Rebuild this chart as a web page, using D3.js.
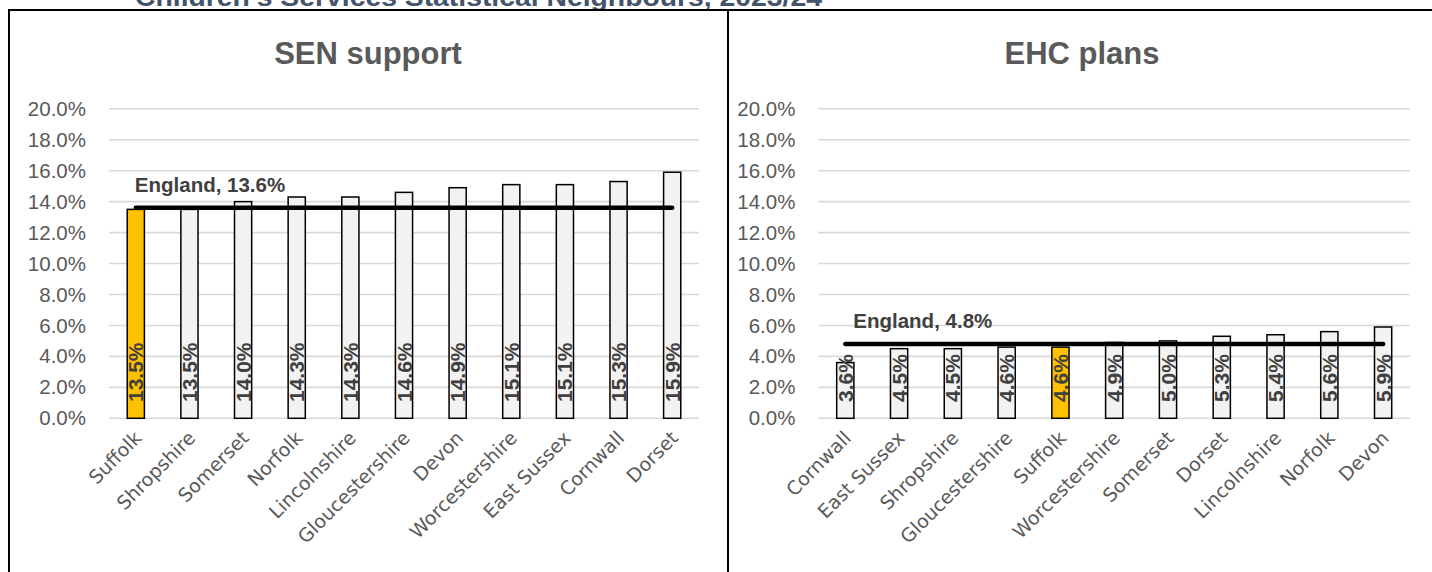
<!DOCTYPE html>
<html>
<head>
<meta charset="utf-8">
<script src="https://cdn.jsdelivr.net/npm/d3@7"></script>
<style>
  html, body { margin: 0; padding: 0; background: #ffffff; }
  svg { display: block; }
</style>
</head>
<body>
<svg id="chart" width="1432" height="572"></svg>
<script>
// SEN support (% of pupils), ordered low to high
const senCategories = ["Suffolk", "Shropshire", "Somerset", "Norfolk", "Lincolnshire",
  "Gloucestershire", "Devon", "Worcestershire", "East Sussex", "Cornwall", "Dorset"];
const senValues = [13.5, 13.5, 14.0, 14.3, 14.3, 14.6, 14.9, 15.1, 15.1, 15.3, 15.9];
const senEngland = 13.6;

// EHC plans (% of pupils), ordered low to high
const ehcCategories = ["Cornwall", "East Sussex", "Shropshire", "Gloucestershire", "Suffolk",
  "Worcestershire", "Somerset", "Dorset", "Lincolnshire", "Norfolk", "Devon"];
const ehcValues = [3.6, 4.5, 4.5, 4.6, 4.6, 4.9, 5.0, 5.3, 5.4, 5.6, 5.9];
const ehcEngland = 4.8;

const yTicks = [0, 2, 4, 6, 8, 10, 12, 14, 16, 18, 20];
const highlightArea = "Suffolk";
const pageTitle = "Children\u2019s Services Statistical Neighbours, 2023/24";

const svg = d3.select("#chart");

// Report heading, mostly above the visible area
svg.append("text")
  .attr("x", 135).attr("y", 6)
  .attr("font-family", "Liberation Sans, Arial, sans-serif")
  .attr("font-weight", "bold")
  .attr("font-size", 26)
  .attr("fill", "#44546A")
  .attr("textLength", 687)
  .attr("lengthAdjust", "spacingAndGlyphs")
  .text(pageTitle);

// Panel frames
const frame = svg.append("g").attr("stroke", "#000").attr("stroke-width", 2).attr("fill", "none");
frame.append("line").attr("x1", 8).attr("x2", 1432).attr("y1", 10).attr("y2", 10);
frame.append("line").attr("x1", 9).attr("x2", 9).attr("y1", 9).attr("y2", 572);
frame.append("line").attr("x1", 728).attr("x2", 728).attr("y1", 9).attr("y2", 572);

function drawPanel(cfg) {
  const g = svg.append("g");
  const y = d3.scaleLinear().domain([0, 20]).range([418.3, 108.8]);
  const x = d3.scaleBand().domain(cfg.categories)
    .range([cfg.x0, cfg.x1]).paddingInner(0.68).paddingOuter(0.34);

  // Title
  g.append("text")
    .attr("x", cfg.titleX).attr("y", 64)
    .attr("text-anchor", "middle")
    .attr("font-family", "Liberation Sans, Arial, sans-serif")
    .attr("font-weight", "bold")
    .attr("font-size", 31)
    .attr("fill", "#595959")
    .text(cfg.title);

  // Gridlines
  g.append("g").selectAll("line").data(yTicks).join("line")
    .attr("x1", cfg.x0).attr("x2", cfg.x1)
    .attr("y1", d => y(d)).attr("y2", d => y(d))
    .attr("stroke", "#D9D9D9").attr("stroke-width", 1.6);

  // Y axis labels
  const yAxis = g.append("g")
    .attr("transform", `translate(${cfg.x0},0)`)
    .call(d3.axisLeft(y).tickValues(yTicks).tickSize(0).tickPadding(23)
      .tickFormat(d => d.toFixed(1) + "%"));
  yAxis.select(".domain").remove();
  yAxis.selectAll("text")
    .attr("font-family", "Liberation Sans, Arial, sans-serif")
    .attr("font-size", 20.5)
    .attr("fill", "#595959");

  // X axis labels
  const xAxis = g.append("g")
    .attr("transform", "translate(0,418.3)")
    .call(d3.axisBottom(x).tickSize(0).tickPadding(0));
  xAxis.select(".domain").remove();
  xAxis.selectAll("text")
    .attr("font-family", "DejaVu Sans, Verdana, sans-serif")
    .attr("font-size", 19)
    .attr("fill", "#595959")
    .attr("text-anchor", "end")
    .attr("dy", "0")
    .attr("transform", "translate(7,21) rotate(-45)");

  // Bars
  const rows = cfg.categories.map((c, i) => ({ name: c, value: cfg.values[i] }));
  g.append("g").selectAll("rect").data(rows).join("rect")
    .attr("x", d => x(d.name))
    .attr("width", x.bandwidth())
    .attr("y", d => y(d.value))
    .attr("height", d => y(0) - y(d.value))
    .attr("fill", d => d.name === highlightArea ? "#FFC000" : "#F2F2F2")
    .attr("stroke", "#000")
    .attr("stroke-width", 1.5);

  // England average line
  const first = cfg.categories[0], last = cfg.categories[cfg.categories.length - 1];
  const lx0 = x(first) + x.bandwidth() / 2, lx1 = x(last) + x.bandwidth() / 2;
  g.append("line")
    .attr("x1", lx0).attr("x2", lx1)
    .attr("y1", y(cfg.england)).attr("y2", y(cfg.england))
    .attr("stroke", "#000").attr("stroke-width", 4.5)
    .attr("stroke-linecap", "round");
  g.append("text")
    .attr("x", lx0 + cfg.labelShift).attr("y", y(cfg.england) - 16)
    .attr("font-family", "Liberation Sans, Arial, sans-serif")
    .attr("font-weight", "bold")
    .attr("font-size", 20.5)
    .attr("fill", "#404040")
    .text(`England, ${cfg.england.toFixed(1)}%`);

  // Value labels inside bars
  g.append("g").selectAll("text").data(rows).join("text")
    .attr("transform", d => `translate(${x(d.name) + x.bandwidth() / 2},402) rotate(-90)`)
    .attr("dy", "0.36em")
    .attr("font-family", "Liberation Sans, Arial, sans-serif")
    .attr("font-weight", "bold")
    .attr("font-size", 21)
    .attr("fill", "#404040")
    .text(d => d.value.toFixed(1) + "%");
}

drawPanel({
  title: "SEN support", titleX: 368,
  categories: senCategories, values: senValues, england: senEngland,
  x0: 109, x1: 699, labelShift: -1
});

drawPanel({
  title: "EHC plans", titleX: 1082,
  categories: ehcCategories, values: ehcValues, england: ehcEngland,
  x0: 818.4, x1: 1410, labelShift: 8
});
</script>
</body>
</html>
